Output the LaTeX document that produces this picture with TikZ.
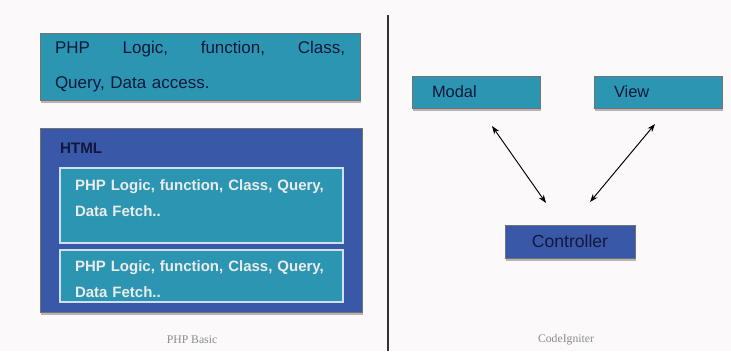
\documentclass[tikz,border=0pt]{standalone}
\usepackage{fontspec}
\setmainfont{Liberation Sans}
\newfontfamily\capfont{Liberation Serif}
\usetikzlibrary{arrows.meta,shadows}
\definecolor{tealbox}{RGB}{44,150,178}
\definecolor{htmlblue}{RGB}{58,88,168}
\definecolor{ctrlblue}{RGB}{72,104,184}
\definecolor{rimblue}{RGB}{205,225,242}
\definecolor{inkblue}{RGB}{18,24,60}
\definecolor{bgpaper}{RGB}{251,249,249}

\begin{document}
\begin{tikzpicture}[x=0.03cm, y=-0.03cm,
  every node/.style={inner sep=0pt, outer sep=0pt},
  box/.style={anchor=north west, draw=black!55, line width=0.5pt,
    drop shadow={shadow xshift=1pt, shadow yshift=-2.5pt, fill=black!40, opacity=0.7}},
  tealfill/.style={box, fill=tealbox},
  bluefill/.style={box, fill=htmlblue},
  innerbox/.style={anchor=north west, fill=tealbox, draw=rimblue, line width=2pt},
  boxtext/.style={font=\fontsize{14}{28}\selectfont, text=inkblue},
  innertext/.style={anchor=north west, text width=8.2cm, align=left,
    font=\fontsize{12.8}{22}\selectfont\bfseries, text=white!92!black},
  caption/.style={font=\capfont\fontsize{10}{12}\selectfont, text=black!45},
  biarrow/.style={{Stealth[length=7pt,width=5pt]}-{Stealth[length=7pt,width=5pt]}, line width=0.8pt}]

  \fill[bgpaper] (0,0) rectangle (731,351);
  \useasboundingbox (0,0) rectangle (731,351);

  % PHP basic
  \node[tealfill, minimum width=9.6cm, minimum height=2.01cm, inner xsep=0.45cm,
    text width=8.7cm, align=left, boxtext, font=\fontsize{14.5}{30}\selectfont] (logic) at (40,33)
    {PHP\hfill Logic,\hfill function,\hfill Class,\\ Query, Data access.};
  \node[bluefill, minimum width=9.66cm, minimum height=5.52cm] (html) at (40,128) {};
  \node[anchor=west, text=inkblue, font=\fontsize{13}{16}\selectfont\bfseries] (htmllbl) at (60,148) {HTML};
  \node[innerbox, minimum width=8.49cm, minimum height=2.25cm] (fetchA) at (60,168) {};
  \node[innertext] (fetchAtxt) at (75,180) {PHP Logic, function, Class, Query,\\ Data Fetch..};
  \node[innerbox, minimum width=8.49cm, minimum height=1.56cm] (fetchB) at (60,250) {};
  \node[innertext] (fetchBtxt) at (75,261) {PHP Logic, function, Class, Query,\\ Data Fetch..};
  \node[caption] (basic) at (192,340) {PHP Basic};

  \draw[line width=1pt, black!80] (388,15) -- (388,351);

  % CodeIgniter
  \node[tealfill, minimum width=3.84cm, minimum height=0.96cm] (modal) at (412,76) {};
  \node[anchor=west, boxtext] (modallbl) at (432,92) {Modal};
  \node[tealfill, minimum width=3.84cm, minimum height=0.96cm] (view) at (594,76) {};
  \node[anchor=west, boxtext] (viewlbl) at (614,92) {View};
  \node[bluefill, minimum width=3.9cm, minimum height=0.99cm, boxtext, font=\fontsize{15}{18}\selectfont] (ctrl) at (505,225) {Controller};
  \node[caption] (ci) at (566,340) {CodeIgniter};

  \draw[biarrow] ([shift={(16,18)}]modal.south) -- ([shift={(-24,-22)}]ctrl.north);
  \draw[biarrow] ([shift={(-3,16)}]view.south) -- ([shift={(20,-23)}]ctrl.north);
\end{tikzpicture}
\end{document}
